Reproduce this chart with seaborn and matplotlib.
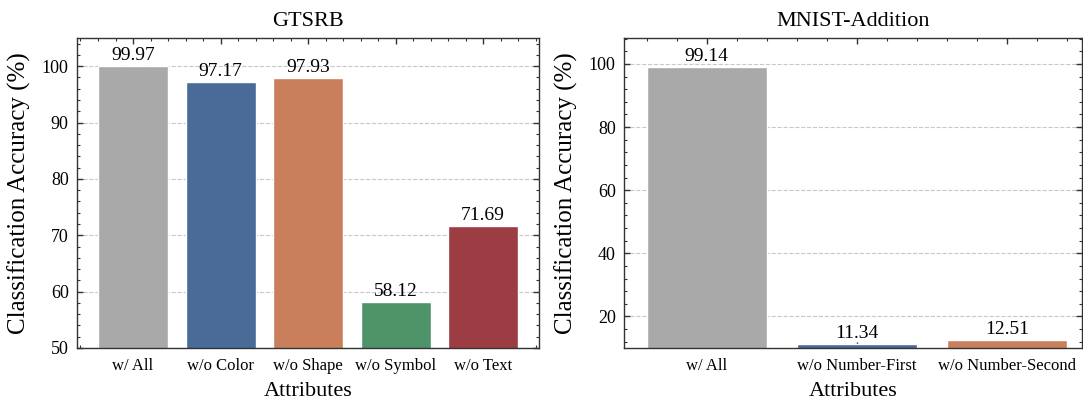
import numpy as np
import pandas as pd
import seaborn as sns
import matplotlib.pyplot as plt
from matplotlib.ticker import AutoMinorLocator

# data
gtsrb_labels = ['w/ All', 'w/o Color', 'w/o Shape', 'w/o Symbol', 'w/o Text']
gtsrb_acc = [99.97, 97.17, 97.93, 58.12, 71.69]
mnist_labels = ['w/ All', 'w/o Number-First', 'w/o Number-Second']
mnist_acc = [99.14, 11.34, 12.51]

gtsrb_colors = ['#a9a9a9', '#4a6a97', '#c97f5b', '#4e9468', '#9b3d42']
mnist_colors = ['#a9a9a9', '#4a6a97', '#c97f5b']

sns.set_style('ticks')
plt.rcParams['font.family'] = ['Liberation Serif', 'DejaVu Serif']
plt.rcParams['text.color'] = 'black'
plt.rcParams['axes.labelcolor'] = 'black'
plt.rcParams['xtick.color'] = '#333333'
plt.rcParams['ytick.color'] = '#333333'
plt.rcParams['xtick.labelcolor'] = 'black'
plt.rcParams['ytick.labelcolor'] = 'black'

fig, axes = plt.subplots(1, 2, figsize=(10.83, 4.0), dpi=100)


def draw(ax, labels, acc, colors, title, ylim, step, xlim):
    df = pd.DataFrame({'Attributes': labels, 'acc': acc})
    sns.barplot(data=df, x='Attributes', y='acc', hue='Attributes', palette=colors,
                legend=False, ax=ax, width=0.8, saturation=1, zorder=2)
    for i, v in enumerate(acc):
        ax.annotate(f'{v:.2f}', (i, v), xytext=(0, 1.5), textcoords='offset points',
                    ha='center', va='bottom', fontsize=14)
    ax.set_xlim(*xlim)
    ax.set_ylim(*ylim)
    ax.set_yticks(np.arange(step * np.ceil(ylim[0] / step), ylim[1], step))
    ax.yaxis.set_minor_locator(AutoMinorLocator(5))
    ax.xaxis.set_minor_locator(AutoMinorLocator(5))
    ax.grid(axis='y', linestyle='--', color='#c8c8c8', linewidth=0.8, zorder=0)
    ax.set_axisbelow(True)
    ax.tick_params(which='both', direction='in', top=True, right=True)
    ax.tick_params(which='major', length=4, labelsize=13, width=1)
    ax.tick_params(which='minor', length=2, width=0.8)
    ax.tick_params(axis='x', labelsize=12, pad=7)
    ax.tick_params(axis='y', pad=6)
    ax.set_title(title, fontsize=16, pad=9)
    ax.set_xlabel('Attributes', fontsize=16, labelpad=6)
    ax.set_ylabel('Classification Accuracy (%)', fontsize=18, labelpad=8)
    for s in ax.spines.values():
        s.set_linewidth(1.0)
        s.set_color('#333333')


draw(axes[0], gtsrb_labels, gtsrb_acc, gtsrb_colors, 'GTSRB', (50, 105), 10, (-0.64, 4.64))
draw(axes[1], mnist_labels, mnist_acc, mnist_colors, 'MNIST-Addition', (10, 108.2), 20, (-0.55, 2.5))

axes[0].set_position([77 / 1083, 52 / 400, 462 / 1083, 310 / 400])
axes[1].set_position([624 / 1083, 52 / 400, 458 / 1083, 310 / 400])
plt.savefig('out.png', dpi=100)
